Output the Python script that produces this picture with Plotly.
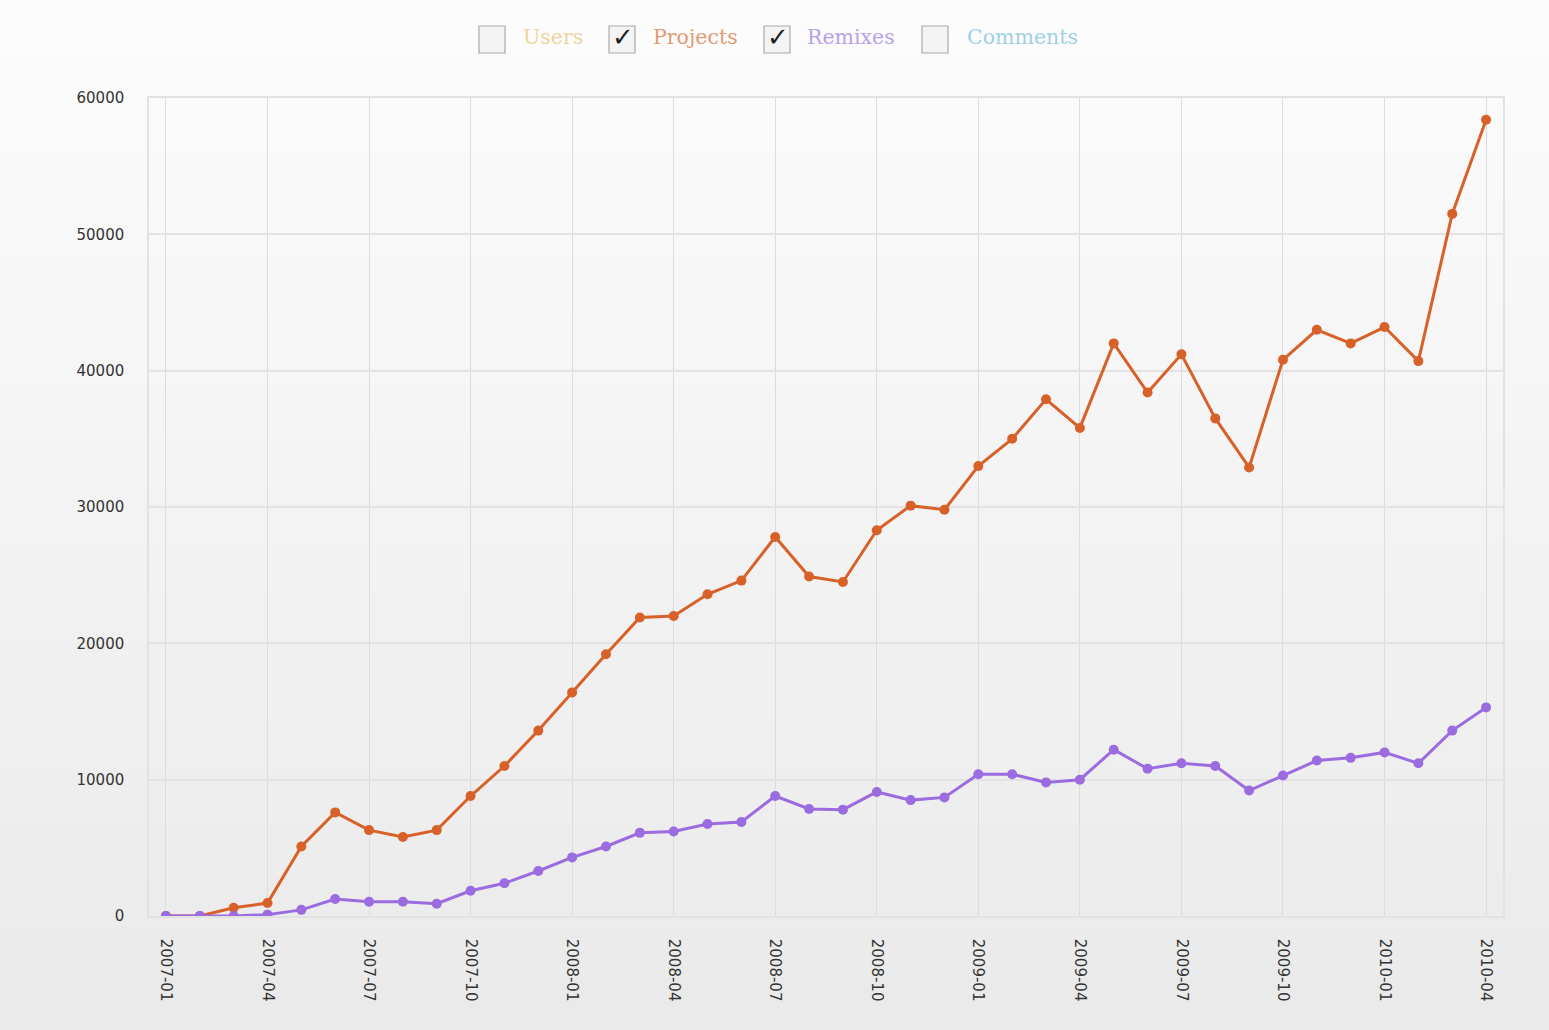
import plotly.graph_objects as go

# ---------------- data ----------------
months = [f"{y}-{m:02d}" for y in (2007, 2008, 2009, 2010) for m in range(1, 13)][:40]

projects = [0, 0, 600, 950, 5100, 7600, 6300, 5800, 6300, 8800,
            11000, 13600, 16400, 19200, 21900, 22000, 23600, 24600, 27800, 24900,
            24500, 28300, 30100, 29800, 33000, 35000, 37900, 35800, 42000, 38400,
            41200, 36500, 32900, 40800, 43000, 42000, 43200, 40700, 51500, 58400]

remixes = [0, 0, 0, 100, 450, 1250, 1050, 1050, 900, 1850,
           2400, 3300, 4300, 5100, 6100, 6200, 6750, 6900, 8800, 7850,
           7800, 9100, 8500, 8700, 10400, 10400, 9800, 10000, 12200, 10800,
           11200, 11000, 9200, 10300, 11400, 11600, 12000, 11200, 13600, 15300]

series_names = ["Users", "Projects", "Remixes", "Comments"]
series_checked = [False, True, True, False]

y_ticks = [0, 10000, 20000, 30000, 40000, 50000, 60000]
x_ticks = months[::3]

# ---------------- styling ----------------
W, H = 1549, 1030
L, R, T, B = 149, 46, 98, 114
PW, PH = W - L - R, H - T - B

line_colors = {"Projects": "#d8612a", "Remixes": "#9b6be0"}
label_colors = {"Users": "#efd39c", "Projects": "#e39a72",
                "Remixes": "#b8a0ea", "Comments": "#9fd0e6"}


def px_x(px):
    return (px - L) / PW


def px_y(py):
    return (H - B - py) / PH


fig = go.Figure()

for name, vals in (("Projects", projects), ("Remixes", remixes)):
    fig.add_trace(go.Scatter(
        x=months, y=vals, name=name, mode="lines+markers",
        line=dict(color=line_colors[name], width=3),
        marker=dict(color=line_colors[name], size=10),
        showlegend=False,
    ))

shapes = []
# background gradient (paper), simulated with bands
n = 40
for i in range(n):
    t = i / (n - 1)
    c = int(round(252 - (252 - 234) * t))
    shapes.append(dict(
        type="rect", xref="paper", yref="paper", layer="below",
        x0=px_x(0), x1=px_x(W),
        y0=px_y(i * H / n), y1=px_y((i + 1) * H / n + 1),
        line=dict(width=0), fillcolor=f"rgb({c},{c},{c})",
    ))

annotations = []
# custom checkbox legend
box_x = [479, 609, 764, 922]
text_x = [521, 651, 805, 965]
for name, checked, bx, tx in zip(series_names, series_checked, box_x, text_x):
    shapes.append(dict(
        type="rect", xref="paper", yref="paper",
        x0=px_x(bx), x1=px_x(bx + 26), y0=px_y(53), y1=px_y(26),
        line=dict(color="#a9a9a9", width=1.2), fillcolor="#f4f4f4",
    ))
    if checked:
        annotations.append(dict(
            xref="paper", yref="paper", x=px_x(bx + 14), y=px_y(37),
            text="✓", showarrow=False, xanchor="center", yanchor="middle",
            font=dict(family="DejaVu Sans", size=26, color="#1e1e1e"),
        ))
    annotations.append(dict(
        xref="paper", yref="paper", x=px_x(tx), y=px_y(37),
        text=name, showarrow=False, xanchor="left", yanchor="middle",
        font=dict(family="DejaVu Serif", size=20.5, color=label_colors[name]),
    ))

tick_font = dict(family="DejaVu Sans", size=15, color="#333333")

fig.update_layout(
    width=W, height=H,
    margin=dict(l=L, r=R, t=T, b=B, pad=0),
    paper_bgcolor="#f3f3f3",
    plot_bgcolor="rgba(0,0,0,0)",
    shapes=shapes,
    annotations=annotations,
    font=dict(family="DejaVu Sans", size=15, color="#333333"),
    xaxis=dict(
        type="category", range=[-0.5, len(months) - 0.5],
        tickmode="array", tickvals=x_ticks, ticktext=x_ticks,
        tickangle=90, ticks="", ticklabelstandoff=18,
        showgrid=True, gridcolor="#dcdcdc", gridwidth=1.3,
        showline=True, linecolor="#e2e2e2", linewidth=1.5, mirror=True,
        tickfont=tick_font,
    ),
    yaxis=dict(
        range=[0, 60000], tickmode="array", tickvals=y_ticks,
        ticktext=[str(v) for v in y_ticks],
        ticks="", ticklabelstandoff=20,
        showgrid=True, gridcolor="#e2e2e2", gridwidth=2,
        zeroline=False,
        showline=True, linecolor="#e2e2e2", linewidth=1.5, mirror=True,
        tickfont=tick_font,
    ),
)

fig.write_html("out.html")
